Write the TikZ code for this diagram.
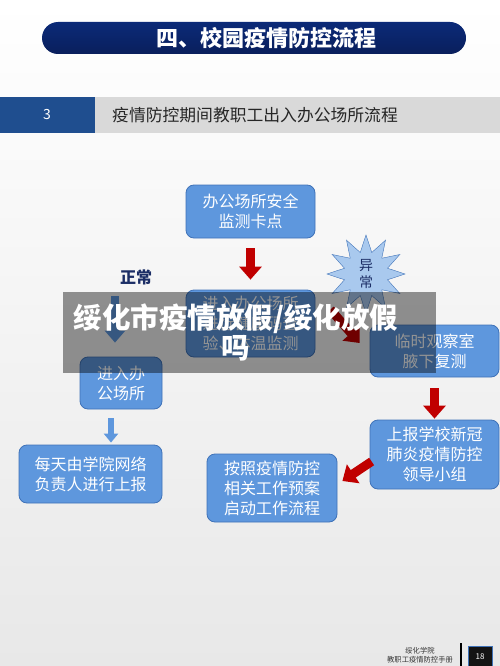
\documentclass[tikz,border=0pt]{standalone}
\usepackage{fontspec}
\setmainfont{Noto Sans CJK SC}
\usetikzlibrary{positioning,arrows.meta,shapes.geometric}
\definecolor{boxblue}{HTML}{5E97DD}
\definecolor{boxedge}{HTML}{3F72B8}
\definecolor{navy}{HTML}{0B2A78}
\definecolor{navydark}{HTML}{0A1F5C}
\definecolor{arrowred}{HTML}{C00000}
\definecolor{headblue}{HTML}{1F4E8F}
\definecolor{headgray}{HTML}{D9D9D9}
\definecolor{starfill}{HTML}{A9C9EE}
\definecolor{labelnavy}{HTML}{1C2E66}

\begin{document}
\begin{tikzpicture}[x=1pt,y=-1pt,
  >={Triangle},
  flowbox/.style={draw=boxedge, fill=boxblue, rounded corners=8pt, text=white,
                  align=center, font=\fontsize{16}{20}\selectfont,
                  inner sep=0pt, line width=0.8pt},
  redarrow/.style={draw=arrowred, line width=9pt,
                   -{Triangle[width=22pt,length=13pt]}},
  bluearrow/.style={draw=boxblue, line width=8pt,
                    -{Triangle[width=20pt,length=12pt]}},
  thinblue/.style={draw=boxblue, line width=6pt,
                   -{Triangle[width=14pt,length=9pt]}}
]
  \useasboundingbox (0,0) rectangle (500,666);
  \shade[top color=white, bottom color=black!9] (0,0) rectangle (500,666);

  % title and header bar
  \shade[top color=navy, bottom color=navydark, rounded corners=16pt]
    (42,22) rectangle (466,54);
  \node[text=white, font=\fontsize{22}{24}\selectfont\bfseries] (title) at (266,38) {四、校园疫情防控流程};
  \fill[headblue] (0,97) rectangle (95,133);
  \fill[headgray] (95,97) rectangle (500,133);
  \node[text=white, font=\fontsize{14}{16}\selectfont] (secnum) at (47,115) {3};
  \node[anchor=west, inner sep=0pt, text=black!85, font=\fontsize{16.8}{18}\selectfont] (sectitle) at (112,115) {疫情防控期间教职工出入办公场所流程};

  % flow boxes
  \node[flowbox, minimum width=129pt, minimum height=53pt] (check) at (250.5,211.5) {办公场所安全\\监测卡点};
  \node[flowbox, minimum width=129pt, minimum height=67pt] (verify) at (250.5,323.5) {进入办公场所\\进行健康码查\\验、体温监测};
  \node[flowbox, minimum width=129pt, minimum height=52pt] (observe) at (434.5,351) {临时观察室\\腋下复测};
  \node[flowbox, minimum width=129pt, minimum height=69pt] (report) at (434.5,454.5) {上报学校新冠\\肺炎疫情防控\\领导小组};
  \node[flowbox, minimum width=130pt, minimum height=68pt] (plan) at (272,488) {按照疫情防控\\相关工作预案\\启动工作流程};
  \node[flowbox, minimum width=82pt, minimum height=52pt] (enter) at (121,383) {进入办\\公场所};
  \node[flowbox, minimum width=143pt, minimum height=58pt] (daily) at (90.5,474) {每天由学院网络\\负责人进行上报};

  % labels
  \node[star, star points=12, star point ratio=1.75, minimum size=78pt,
        draw=boxedge, fill=starfill, inner sep=0pt, text=labelnavy,
        align=center, font=\fontsize{14}{17}\selectfont] (abnormal) at (366,274) {异\\常};
  \node[text=labelnavy, font=\fontsize{16}{18}\selectfont\bfseries] (normal) at (136,277) {正常};
  \coordinate (normfrom) at (115,296);

  % connectors
  \draw[redarrow, shorten <=10pt, shorten >=10pt] (check.south) -- (check.south |- verify.north);
  \draw[redarrow] ([shift={(15,-14)}]verify.east) -- ([shift={(-10,-8)}]observe.west);
  \draw[redarrow, shorten <=11pt, shorten >=1pt] (observe.south) -- (report.north);
  \draw[redarrow] ([shift={(2,7)}]report.west) -- ([shift={(5,-7)}]plan.east);
  \draw[bluearrow, shorten >=14pt] (normfrom) -- (normfrom |- enter.north);
  \draw[thinblue, shorten <=9pt, shorten >=2pt] ([xshift=-10pt]enter.south) -- ([xshift=-10pt]enter.south |- daily.north);

  % overlay banner
  \fill[black, fill opacity=0.42] (63,292) rectangle (436,373);
  \node[text=white, align=center, font=\fontsize{28.5}{30}\selectfont\bfseries] (banner) at (236,332) {绥化市疫情放假/绥化放假\\吗};

  % footer
  \node[align=center, text=black!80, font=\fontsize{7.3}{8.5}\selectfont] (footer) at (420,655) {绥化学院\\教职工疫情防控手册};
  \fill[black] (460,643) rectangle (462,666);
  \node[draw=boxedge, fill=black!92, text=white, minimum width=24pt, minimum height=22pt,
        inner sep=0pt, font=\fontsize{8}{9}\selectfont] (pagenum) at (480,657) {18};
\end{tikzpicture}
\end{document}
